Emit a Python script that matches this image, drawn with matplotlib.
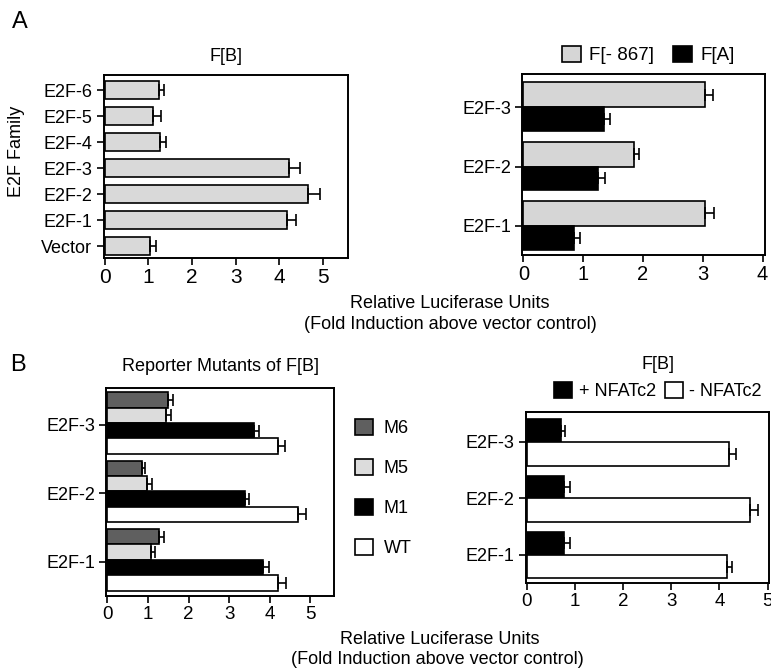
import matplotlib.pyplot as plt
import numpy as np
from matplotlib.patches import Patch

plt.rcParams['font.family'] = ['Liberation Sans', 'DejaVu Sans']
plt.rcParams['font.size'] = 13

# Panel A (left): F[B] reporter, E2F family members
fb_labels = ['Vector', 'E2F-1', 'E2F-2', 'E2F-3', 'E2F-4', 'E2F-5', 'E2F-6']
fb_values = [1.03, 4.18, 4.66, 4.21, 1.26, 1.11, 1.24]
fb_errors = [0.14, 0.19, 0.28, 0.27, 0.15, 0.17, 0.12]

# Panel A (right): F[-867] vs F[A]
e2f_labels = ['E2F-1', 'E2F-2', 'E2F-3']
f867_values = [3.04, 1.85, 3.03]
f867_errors = [0.14, 0.08, 0.14]
fa_values = [0.84, 1.24, 1.34]
fa_errors = [0.11, 0.12, 0.11]

# Panel B (left): reporter mutants of F[B]
mutant_names = ['M6', 'M5', 'M1', 'WT']
m6_values = [1.27, 0.85, 1.50]
m6_errors = [0.13, 0.09, 0.13]
m5_values = [1.07, 0.99, 1.45]
m5_errors = [0.11, 0.10, 0.11]
m1_values = [3.84, 3.39, 3.61]
m1_errors = [0.13, 0.11, 0.13]
wt_values = [4.19, 4.69, 4.20]
wt_errors = [0.21, 0.20, 0.18]

# Panel B (right): F[B] +/- NFATc2
plus_nfat = [0.78, 0.78, 0.71]
plus_nfat_err = [0.11, 0.11, 0.09]
minus_nfat = [4.15, 4.64, 4.20]
minus_nfat_err = [0.12, 0.17, 0.15]

W, H = 771, 669
fig = plt.figure(figsize=(W / 100, H / 100), dpi=100)


def add_ax(x0, y0, x1, y1):
    # pixel box (top-left origin) -> figure fraction
    return fig.add_axes([x0 / W, 1 - y1 / H, (x1 - x0) / W, (y1 - y0) / H])


def style(ax, xsize):
    for s in ax.spines.values():
        s.set_linewidth(1.4)
    ax.tick_params(direction='out', length=5, width=1.2, labelsize=13, pad=3)
    ax.tick_params(axis='x', labelsize=xsize, pad=2)


eb = dict(ecolor='black', elinewidth=1.2, capsize=4, capthick=1.2)


def one_sided(err):
    return [np.zeros(len(err)), err]


# ---- A left
ax1 = add_ax(103.5, 75, 348, 258)
y = np.arange(len(fb_labels))
ax1.barh(y, fb_values, height=0.72, color='#d9d9d9', edgecolor='black', linewidth=1.2,
         xerr=one_sided(fb_errors), error_kw=eb)
ax1.set_yticks(y)
ax1.set_yticklabels(fb_labels)
ax1.set_ylim(-0.46, 6.58)
ax1.set_xlim(-0.03, 5.57)
ax1.set_xticks(range(6))
ax1.set_title('F[B]', fontsize=13, pad=10)
style(ax1, 15)
fig.text(17 / W, 1 - 151 / H, 'E2F Family', rotation=90, ha='center', va='center', fontsize=13)

# ---- A right
ax2 = add_ax(522.3, 74, 765, 255)
y = np.arange(len(e2f_labels))
ax2.barh(y, f867_values, height=0.42, align='edge', color='#d6d6d6', edgecolor='black',
         linewidth=1.2, xerr=one_sided(f867_errors), error_kw=eb, label='F[- 867]')
ax2.barh(y - 0.40, fa_values, height=0.40, align='edge', color='black', edgecolor='black',
         linewidth=1.2, xerr=one_sided(fa_errors), error_kw=eb, label='F[A]')
ax2.set_yticks(y)
ax2.set_yticklabels(e2f_labels)
ax2.set_ylim(-0.49, 2.56)
ax2.set_xlim(-0.02, 4.04)
ax2.set_xticks(range(5))
style(ax2, 14.5)
h2 = [Patch(facecolor='#d6d6d6', edgecolor='black', linewidth=1.2),
      Patch(facecolor='black', edgecolor='black', linewidth=1.2)]
fig.legend(h2, ['F[- 867]', 'F[A]'], ncol=2, frameon=False, loc='center left',
           bbox_to_anchor=(562 / W, 1 - 55 / H), borderpad=0, borderaxespad=0,
           handlelength=1.0, handleheight=1.0, handletextpad=0.45, columnspacing=1.0,
           fontsize=13.5)

# shared x label for A
fig.text(450 / W, 1 - 303 / H, 'Relative Luciferase Units', ha='center', va='center', fontsize=13)
fig.text(450 / W, 1 - 325 / H, '(Fold Induction above vector control)', ha='center', va='center',
         fontsize=13)

# ---- B left
ax3 = add_ax(106, 388, 334, 596)
y = np.arange(len(e2f_labels))
bh = 0.225
series = [(m6_values, m6_errors, '#5f5f5f'), (m5_values, m5_errors, '#dcdcdc'),
          (m1_values, m1_errors, 'black'), (wt_values, wt_errors, 'white')]
offsets = (np.array([1.5, 0.5, -0.5, -1.5]) * bh) + 0.03
handles3 = []
for (vals, errs, col), off, name in zip(series, offsets, mutant_names):
    ax3.barh(y + off, vals, height=bh, color=col, edgecolor='black', linewidth=1.2,
             xerr=one_sided(errs), error_kw=eb)
    handles3.append(Patch(facecolor=col, edgecolor='black', linewidth=1.2))
ax3.set_yticks(y)
ax3.set_yticklabels(e2f_labels)
ax3.set_ylim(-0.5, 2.54)
ax3.set_xlim(-0.03, 5.58)
ax3.set_xticks(range(6))
ax3.set_title('Reporter Mutants of F[B]', fontsize=13, pad=12)
style(ax3, 13.5)
fig.legend(handles3, mutant_names, frameon=False, loc='center left',
           bbox_to_anchor=(355 / W, 1 - 488 / H), borderpad=0, borderaxespad=0,
           handlelength=1.0, handleheight=1.0, handletextpad=0.6, labelspacing=1.2,
           fontsize=13)

# ---- B right
ax4 = add_ax(525.7, 412, 769, 583)
ax4.barh(y, plus_nfat, height=0.40, align='edge', color='black', edgecolor='black',
         linewidth=1.2, xerr=one_sided(plus_nfat_err), error_kw=eb)
ax4.barh(y - 0.42, minus_nfat, height=0.42, align='edge', color='white', edgecolor='black',
         linewidth=1.2, xerr=one_sided(minus_nfat_err), error_kw=eb)
ax4.set_yticks(y)
ax4.set_yticklabels(e2f_labels)
ax4.set_ylim(-0.5, 2.53)
ax4.set_xlim(-0.02, 5.03)
ax4.set_xticks(range(6))
style(ax4, 13.5)
h4 = [Patch(facecolor='black', edgecolor='black', linewidth=1.2),
      Patch(facecolor='white', edgecolor='black', linewidth=1.2)]
fig.legend(h4, ['+ NFATc2', '- NFATc2'], ncol=2, frameon=False, loc='center',
           bbox_to_anchor=(658 / W, 1 - 378 / H), borderpad=0, borderaxespad=0,
           handlelength=1.0, handleheight=1.0, handletextpad=0.35, columnspacing=0.5,
           fontsize=13, title='F[B]', title_fontsize=13)

fig.text(440 / W, 1 - 640 / H, 'Relative Luciferase Units', ha='center', va='center', fontsize=13)
fig.text(437 / W, 1 - 659 / H, '(Fold Induction above vector control)', ha='center', va='center',
         fontsize=13)

# panel letters
fig.text(12 / W, 1 - 22 / H, 'A', ha='left', va='center', fontsize=17)
fig.text(10 / W, 1 - 365 / H, 'B', ha='left', va='center', fontsize=17)

fig.savefig('out.png', dpi=100, facecolor='white')
